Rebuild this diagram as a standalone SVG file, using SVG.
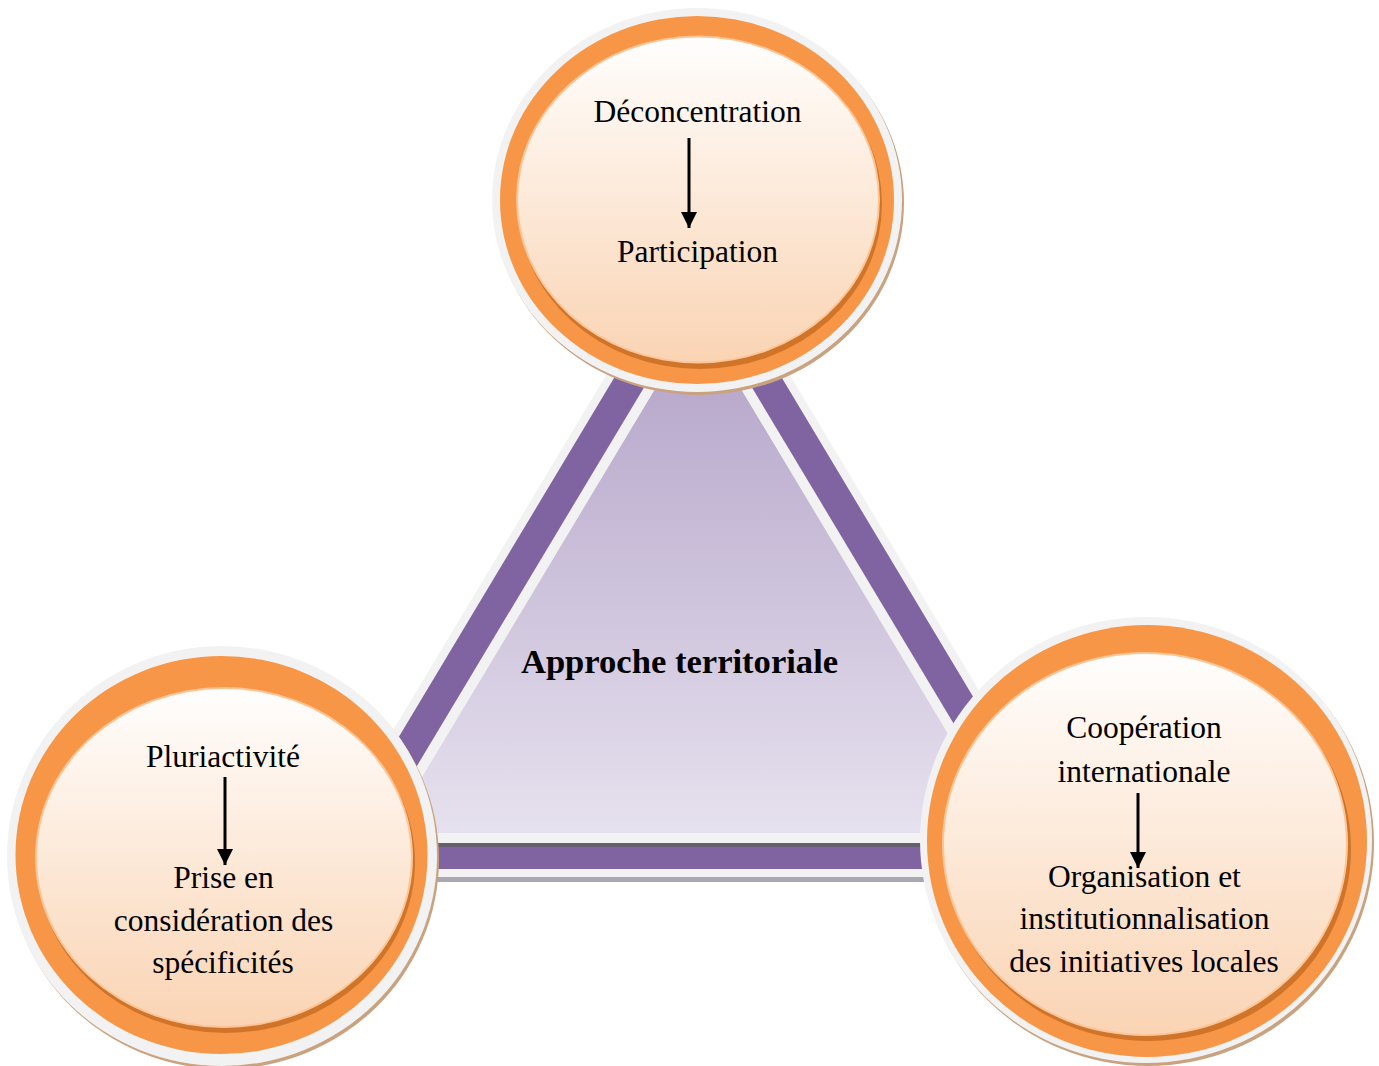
<svg xmlns="http://www.w3.org/2000/svg" width="1379" height="1066" viewBox="0 0 1379 1066">
  <defs>
    <linearGradient id="triFill" x1="0" y1="317" x2="0" y2="833" gradientUnits="userSpaceOnUse">
      <stop offset="0" stop-color="#b2a1c7"/>
      <stop offset="1" stop-color="#e6e1ee"/>
    </linearGradient>
    <linearGradient id="peach" x1="0" y1="0" x2="0" y2="1">
      <stop offset="0" stop-color="#fffefd"/>
      <stop offset="1" stop-color="#fad4b4"/>
    </linearGradient>
    <marker id="head" viewBox="0 0 16 16" markerWidth="16" markerHeight="16" refX="16" refY="8" orient="auto" markerUnits="userSpaceOnUse">
      <path d="M0,0 L16,8 L0,16 z" fill="#000"/>
    </marker>
    <style>
      .shadow { fill: #c9a27f; }
      .rim { fill: #f2f2f2; }
      .ring { fill: #f79646; }
      .deep { fill: #cf7428; }
      .edge { fill: #fbc597; }
      .core { fill: url(#peach); }
      .label { font-family: "Liberation Serif", "Times New Roman", serif; font-size: 31.5px; fill: #000; text-anchor: middle; }
      .title { font-family: "Liberation Serif", "Times New Roman", serif; font-size: 34.6px; font-weight: bold; fill: #000; text-anchor: middle; }
      .arrow { stroke: #000; stroke-width: 3; fill: none; marker-end: url(#head); }
    </style>
  </defs>

  <rect width="1379" height="1066" fill="#ffffff"/>

  <!-- central triangle -->
  <g id="approche-territoriale">
    <polygon points="698,222 1091,877 305,877" fill="#f2f2f2"/>
    <polygon points="698,238 1076.4,869 319.6,869" fill="#8064a2"/>
    <polygon points="698,297.5 1025.3,843 370.7,843" fill="#f2f2f2"/>
    <polygon points="698,317.5 1007.5,833 388.5,833" fill="url(#triFill)"/>
    <rect x="330" y="843" width="740" height="4" fill="#66606e"/>
    <rect x="305" y="877" width="786" height="5" fill="#aba6b4"/>
    <text class="title" x="679.5" y="673">Approche territoriale</text>
  </g>

  <!-- top node -->
  <g id="deconcentration">
    <ellipse class="shadow" cx="699" cy="203" rx="205" ry="192"/>
    <ellipse class="rim" cx="697" cy="200" rx="205" ry="192"/>
    <ellipse class="ring" cx="697" cy="200" rx="197" ry="184"/>
    <ellipse class="deep" cx="700" cy="204" rx="182" ry="165"/>
    <ellipse class="edge" cx="698" cy="199.5" rx="182" ry="164"/>
    <ellipse class="core" cx="698" cy="199.5" rx="180" ry="162"/>
    <text class="label" x="697.5" y="122">Déconcentration</text>
    <text class="label" x="697.5" y="262">Participation</text>
  </g>

  <!-- left node -->
  <g id="pluriactivite">
    <ellipse class="shadow" cx="224" cy="859" rx="215" ry="210"/>
    <ellipse class="rim" cx="222" cy="856" rx="215" ry="210"/>
    <ellipse class="ring" cx="221.5" cy="855" rx="206" ry="199"/>
    <ellipse class="deep" cx="226" cy="862" rx="189" ry="171"/>
    <ellipse class="edge" cx="224" cy="857.5" rx="189" ry="170.5"/>
    <ellipse class="core" cx="224" cy="857.5" rx="187" ry="168.5"/>
    <text class="label" x="223" y="767">Pluriactivité</text>
    <text class="label" x="223.5" y="888">Prise en</text>
    <text class="label" x="223.5" y="931">considération des</text>
    <text class="label" x="223" y="973">spécificités</text>
  </g>

  <!-- right node -->
  <g id="cooperation">
    <ellipse class="shadow" cx="1148" cy="843" rx="226" ry="223"/>
    <ellipse class="rim" cx="1146" cy="840" rx="226" ry="223"/>
    <ellipse class="ring" cx="1147" cy="841" rx="220" ry="216"/>
    <ellipse class="deep" cx="1148" cy="849" rx="203" ry="192"/>
    <ellipse class="edge" cx="1145" cy="844" rx="203" ry="192"/>
    <ellipse class="core" cx="1145" cy="844" rx="201" ry="190"/>
    <text class="label" x="1144" y="738">Coopération</text>
    <text class="label" x="1144" y="782">internationale</text>
    <text class="label" x="1144.5" y="887">Organisation et</text>
    <text class="label" x="1144.5" y="929">institutionnalisation</text>
    <text class="label" x="1144" y="972">des initiatives locales</text>
  </g>

  <!-- arrows inside the nodes -->
  <g id="connectors">
    <line class="arrow" x1="689" y1="138" x2="689" y2="228"/>
    <line class="arrow" x1="225" y1="777" x2="225" y2="865"/>
    <line class="arrow" x1="1138" y1="793" x2="1138" y2="868"/>
  </g>
</svg>
